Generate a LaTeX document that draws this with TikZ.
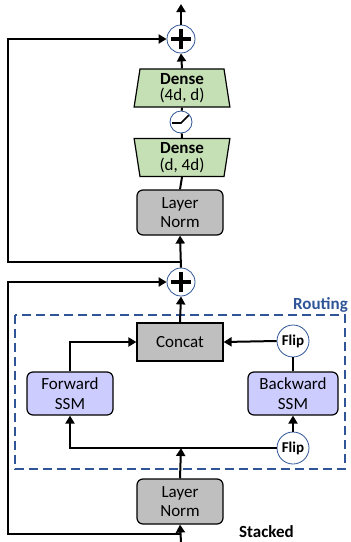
\documentclass[tikz,border=0pt]{standalone}
\usepackage{fontspec}
\setmainfont{Carlito}
\usepackage{tikz}
\usetikzlibrary{arrows.meta,shapes.geometric}
\definecolor{densegreen}{HTML}{C5E0B4}
\definecolor{normgray}{HTML}{BFBFBF}
\definecolor{ssmblue}{HTML}{CCCCFF}
\definecolor{routeblue}{HTML}{2F5597}

\begin{document}
\begin{tikzpicture}[x=1pt,y=-1pt]
\tikzstyle{every node}+=[inner sep=0pt,font=\fontsize{17}{19.5}\selectfont]
\tikzstyle{wire}=[line width=2pt]
\tikzstyle{flow}=[line width=2pt,-{Triangle[length=8pt,width=9pt]}]
\tikzstyle{block}=[draw,line width=1.2pt,minimum width=86pt,align=center]
\tikzstyle{normbox}=[block,fill=normgray,rounded corners=6pt,minimum height=45pt]
\tikzstyle{ssmbox}=[block,fill=ssmblue,rounded corners=6pt,minimum height=43pt]
\tikzstyle{densebox}=[draw,line width=1.2pt,fill=densegreen,trapezium,trapezium angle=84,trapezium stretches=true,minimum width=96pt,minimum height=38pt,align=center,font=\fontsize{17}{16.5}\selectfont]
\tikzstyle{junction}=[circle,draw=routeblue,line width=0.8pt,fill=white,minimum size=28pt]
\tikzstyle{sumnode}=[junction,path picture={
  \draw[black,line width=3.6pt] ([xshift=-10pt]path picture bounding box.center) -- ([xshift=10pt]path picture bounding box.center);
  \draw[black,line width=3.6pt] ([yshift=-10pt]path picture bounding box.center) -- ([yshift=10pt]path picture bounding box.center);}]
\tikzstyle{actnode}=[junction,minimum size=22pt,path picture={
  \draw[black,line width=1.6pt] ([shift={(-9,1)}]path picture bounding box.center) -- ([shift={(0,1)}]path picture bounding box.center) -- ([shift={(8,-7)}]path picture bounding box.center);}]
\tikzstyle{flipnode}=[junction,minimum size=32pt,font=\fontsize{15}{15}\selectfont\bfseries]
\tikzstyle{routebox}=[draw=routeblue,line width=1.6pt,dash pattern=on 9pt off 5pt]

\useasboundingbox (0,0) rectangle (351,542);

\node[sumnode] (plusA) at (181,39) {};
\node[densebox] (denseA) at (182,88) {\textbf{Dense}\\(4d, d)};
\node[actnode] (act) at (181,122) {};
\node[densebox,shape border rotate=180] (denseB) at (182,157.5) {\textbf{Dense}\\(d, 4d)};
\node[normbox] (lnA) at (180,212.5) {Layer\\Norm};
\node[sumnode] (plusB) at (181,282) {};

\draw[routebox] (15,315) rectangle (345,469);
\node[anchor=base east,text=routeblue,font=\fontsize{17}{19}\selectfont\bfseries] (routing) at (348,309) {Routing};

\node[block,fill=normgray,minimum height=38pt] (concat) at (180,342) {Concat};
\node[flipnode] (flipA) at (293,341) {Flip};
\node[ssmbox] (fwd) at (70,393.5) {Forward\\SSM};
\node[ssmbox,minimum width=90pt] (bwd) at (293,393.5) {Backward\\SSM};
\node[flipnode] (flipB) at (293,448) {Flip};
\node[normbox] (lnB) at (180,501.5) {Layer\\Norm};
\node[anchor=base west,font=\fontsize{17}{19}\selectfont\bfseries] (stacked) at (239,537) {Stacked};

\coordinate (outTop) at (181,4);
\coordinate (brA) at (181,262);
\coordinate (cornerA) at (8,262);
\coordinate (brB) at (181,534);
\coordinate (cornerB) at (8,534);
\coordinate (inBot) at (181,542);
\coordinate (split) at (181,448);

\draw[flow] (plusA.north) -- (outTop);
\draw[flow] (denseA.north) -- (plusA.south);
\draw[wire] (act) -- (denseA.south);
\draw[wire] (denseB.north) -- (act);
\draw[wire] (lnA.north) -- (denseB.south);
\draw[flow] (plusB.north) -- (lnA.south);
\draw[flow] (brA) -- (cornerA) |- (plusA.west);
\draw[flow] (concat.north) -- (plusB.south);
\draw[flow] (brB) -- (cornerB) |- (plusB.west);
\draw[flow] (inBot) -- (lnB.south);
\draw[flow] (lnB.north) -- (split);
\draw[flow] (flipB.west) -- (fwd.south |- flipB.west) -- (fwd.south);
\draw[flow] (flipB.north) -- (bwd.south);
\draw[wire] (bwd.north) -- (flipA.south);
\draw[flow] (flipA.west) -- (concat.east);
\draw[flow] (fwd.north) |- (concat.west);
\end{tikzpicture}
\end{document}
